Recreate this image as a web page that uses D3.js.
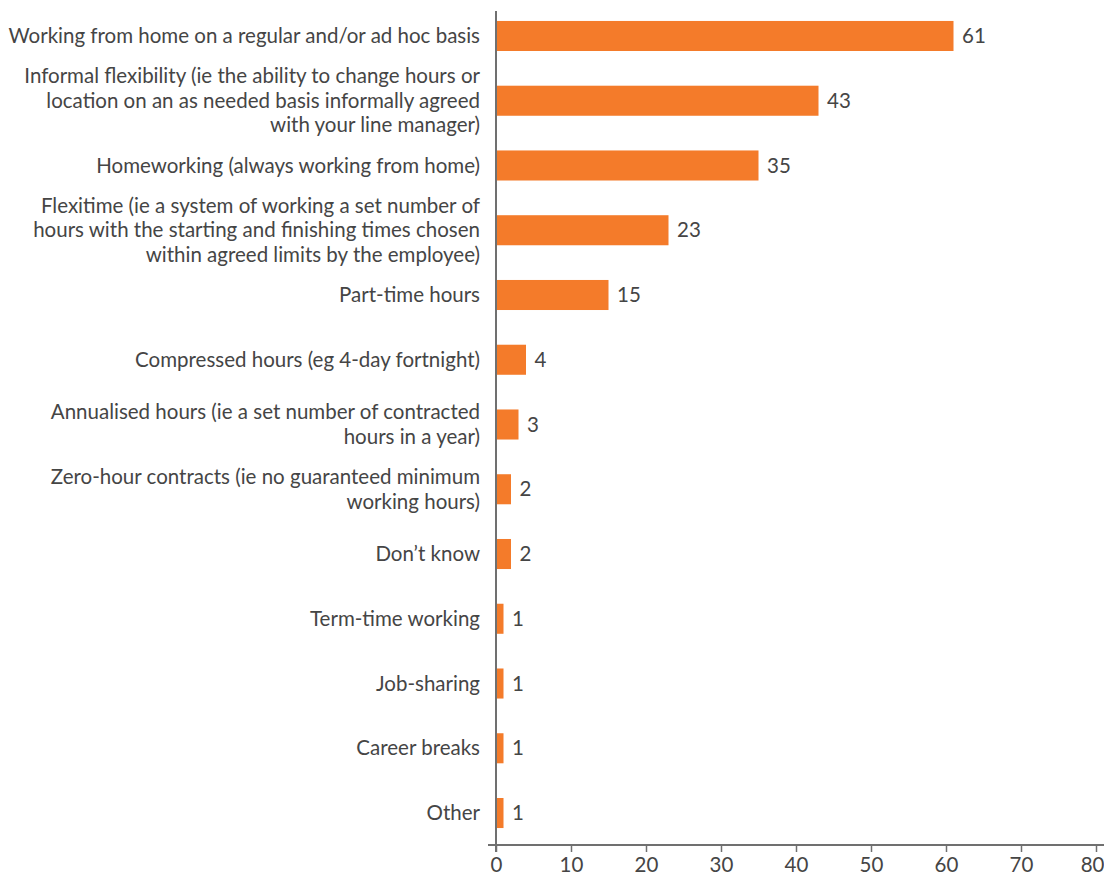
<!DOCTYPE html>
<html>
<head>
<meta charset="utf-8">
<script src="https://cdn.jsdelivr.net/npm/d3@7"></script>
<style>
  html, body { margin: 0; padding: 0; background: #fff; }
  svg { display: block; }
  text { font-family: Lato, "Open Sans", sans-serif; }
</style>
</head>
<body>
<svg id="chart" width="1104" height="877"></svg>
<script>
// Flexible working arrangements (%), each label split into its printed lines
const categories = [
  ["Working from home on a regular and/or ad hoc basis"],
  ["Informal flexibility (ie the ability to change hours or", "location on an as needed basis informally agreed", "with your line manager)"],
  ["Homeworking (always working from home)"],
  ["Flexitime (ie a system of working a set number of", "hours with the starting and finishing times chosen", "within agreed limits by the employee)"],
  ["Part-time hours"],
  ["Compressed hours (eg 4-day fortnight)"],
  ["Annualised hours (ie a set number of contracted", "hours in a year)"],
  ["Zero-hour contracts (ie no guaranteed minimum", "working hours)"],
  ["Don\u2019t know"],
  ["Term-time working"],
  ["Job-sharing"],
  ["Career breaks"],
  ["Other"]
];
const values = [61, 43, 35, 23, 15, 4, 3, 2, 2, 1, 1, 1, 1];
const xTicks = [0, 10, 20, 30, 40, 50, 60, 70, 80];

const svg = d3.select("#chart");
const x0 = 496, x1 = 1096;
const axisY = 845;
const textColor = "#454545";
const axisColor = "#707070";
const barColor = "#f47b2a";
const fontSize = 20.5;

const x = d3.scaleLinear().domain([0, 80]).range([x0, x1]);
const y = d3.scaleBand()
  .domain(d3.range(categories.length))
  .range([3.6, 845.4])
  .paddingInner(0.536)
  .paddingOuter(0.268);

// Bars
svg.append("g").selectAll("rect")
  .data(values)
  .join("rect")
  .attr("x", x(0))
  .attr("y", (d, i) => y(i))
  .attr("width", d => x(d) - x(0))
  .attr("height", y.bandwidth())
  .attr("fill", barColor);

// Value labels at bar ends
svg.append("g").selectAll("text")
  .data(values)
  .join("text")
  .attr("x", d => x(d) + 8.5)
  .attr("y", (d, i) => y(i) + y.bandwidth() / 2)
  .attr("dy", "0.35em")
  .attr("font-size", fontSize)
  .attr("fill", textColor)
  .text(d => d);

// Category labels, right-aligned and centred on each bar
const lineH = 24.5;
const catG = svg.append("g");
categories.forEach((lines, i) => {
  const cy = y(i) + y.bandwidth() / 2;
  const t = catG.append("text")
    .attr("text-anchor", "end")
    .attr("font-size", fontSize)
    .attr("fill", textColor);
  lines.forEach((ln, j) => {
    t.append("tspan")
      .attr("x", 480)
      .attr("y", cy + (j - (lines.length - 1) / 2) * lineH)
      .attr("dy", "0.35em")
      .text(ln);
  });
});

// Bottom axis
const xAxis = d3.axisBottom(x).tickValues(xTicks).tickSize(7).tickSizeOuter(0).tickPadding(5);
const gx = svg.append("g")
  .attr("transform", `translate(0,${axisY})`)
  .call(xAxis);
gx.select(".domain").remove();
gx.selectAll(".tick line").attr("stroke", axisColor).attr("stroke-width", 1.5);
gx.selectAll(".tick text")
  .attr("font-size", fontSize)
  .attr("font-family", "Lato, 'Open Sans', sans-serif")
  .attr("fill", textColor);
// keep the last tick label inside the right edge
gx.selectAll(".tick text")
  .filter(d => d === xTicks[xTicks.length - 1])
  .attr("text-anchor", "end")
  .attr("x", 1104 - x1);
svg.append("line")
  .attr("x1", 488).attr("x2", 1104)
  .attr("y1", axisY).attr("y2", axisY)
  .attr("stroke", axisColor).attr("stroke-width", 2);

// Vertical baseline
svg.append("line")
  .attr("x1", x(0)).attr("x2", x(0))
  .attr("y1", 11).attr("y2", axisY + 7)
  .attr("stroke", axisColor).attr("stroke-width", 2);
</script>
</body>
</html>
